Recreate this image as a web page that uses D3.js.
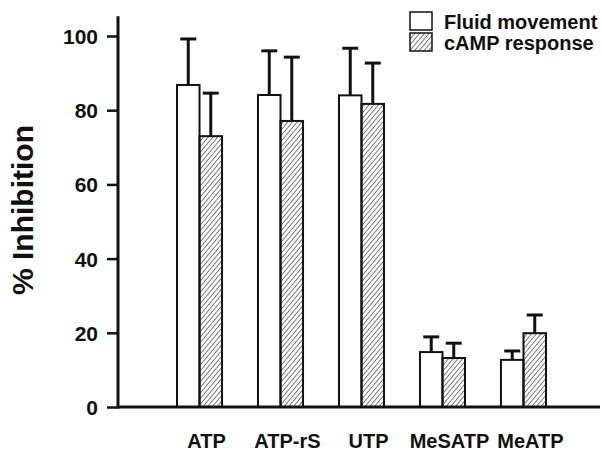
<!DOCTYPE html>
<html>
<head>
<meta charset="utf-8">
<script src="https://cdn.jsdelivr.net/npm/d3@7"></script>
<style>
  body { margin: 0; background: #fff; }
  text { font-family: Arial, "Liberation Sans", sans-serif; font-weight: bold; fill: #111; }
</style>
</head>
<body>
<div id="vis"></div>
<script>
const categories = ["ATP", "ATP-rS", "UTP", "MeSATP", "MeATP"];
const seriesNames = ["Fluid movement", "cAMP response"];
const fluidMean = [86.8, 84.1, 84.0, 14.8, 12.7];
const fluidErr  = [12.4, 11.9, 12.7, 4.1, 2.4];
const campMean  = [73.0, 77.1, 81.7, 13.2, 19.9];
const campErr   = [11.6, 17.2, 11.0, 4.0, 4.9];
const yTicks = [0, 20, 40, 60, 80, 100];

function drawChart() {
    let width = 602;
    let height = 452;

    var svg = d3.select("#vis")
        .append("svg")
        .attr("width", width)
        .attr("height", height);

    // hatch for the cAMP bars
    var defs = svg.append("defs");
    defs.append("pattern")
        .attr("id", "hatch")
        .attr("patternUnits", "userSpaceOnUse")
        .attr("width", 3.6)
        .attr("height", 3.6)
        .attr("patternTransform", "rotate(40)")
        .append("line")
        .attr("x1", 0).attr("y1", 0)
        .attr("x2", 0).attr("y2", 3.6)
        .attr("stroke", "#222")
        .attr("stroke-width", 1.2);

    var y = d3.scaleLinear()
        .domain([0, 100])
        .range([407, 36]);

    var x = d3.scaleBand()
        .domain(categories)
        .range([177, 546])
        .paddingInner(0.444)
        .paddingOuter(0);

    var x1 = d3.scaleBand()
        .domain(seriesNames)
        .range([0, x.bandwidth()]);

    var rows = categories.map(function (c, i) {
        return {
            cat: c,
            bars: [
                {name: seriesNames[0], mean: fluidMean[i], err: fluidErr[i], fill: "#fff"},
                {name: seriesNames[1], mean: campMean[i], err: campErr[i], fill: "url(#hatch)"}
            ]
        };
    });

    var groups = svg.selectAll("g.grp")
        .data(rows)
        .enter().append("g")
        .attr("class", "grp")
        .attr("transform", function (d) { return "translate(" + x(d.cat) + ",0)"; });

    var bars = groups.selectAll("g.bar")
        .data(function (d) { return d.bars; })
        .enter().append("g")
        .attr("class", "bar");

    // error bars (upper only)
    bars.append("line")
        .attr("x1", function (d) { return x1(d.name) + x1.bandwidth() / 2; })
        .attr("x2", function (d) { return x1(d.name) + x1.bandwidth() / 2; })
        .attr("y1", function (d) { return y(d.mean); })
        .attr("y2", function (d) { return y(d.mean + d.err); })
        .attr("stroke", "#111")
        .attr("stroke-width", 3);
    bars.append("line")
        .attr("x1", function (d) { return x1(d.name) + x1.bandwidth() / 2 - 8; })
        .attr("x2", function (d) { return x1(d.name) + x1.bandwidth() / 2 + 8; })
        .attr("y1", function (d) { return y(d.mean + d.err); })
        .attr("y2", function (d) { return y(d.mean + d.err); })
        .attr("stroke", "#111")
        .attr("stroke-width", 3);

    bars.append("rect")
        .attr("x", function (d) { return x1(d.name); })
        .attr("width", x1.bandwidth())
        .attr("y", function (d) { return y(d.mean); })
        .attr("height", function (d) { return y(0) - y(d.mean); })
        .attr("fill", function (d) { return d.fill; })
        .attr("stroke", "#111")
        .attr("stroke-width", 2);

    // y axis
    var yAxis = d3.axisLeft(y)
        .tickValues(yTicks)
        .tickSize(11)
        .tickPadding(9);
    var gy = svg.append("g")
        .attr("transform", "translate(118,0)")
        .call(yAxis);
    gy.select(".domain").remove();
    gy.selectAll(".tick line").attr("stroke", "#111").attr("stroke-width", 2.5);
    gy.selectAll(".tick text")
        .attr("font-size", 21)
        .attr("dy", "0.36em");
    gy.append("line")
        .attr("x1", 0).attr("x2", 0)
        .attr("y1", y(0) + 1.5)
        .attr("y2", y(105.3))
        .attr("stroke", "#111")
        .attr("stroke-width", 3);

    // x axis baseline
    svg.append("line")
        .attr("x1", 118).attr("x2", 600)
        .attr("y1", y(0)).attr("y2", y(0))
        .attr("stroke", "#111")
        .attr("stroke-width", 3);

    // category labels
    svg.selectAll("text.cat")
        .data(categories)
        .enter().append("text")
        .attr("class", "cat")
        .attr("x", function (d) { return x(d) + x.bandwidth() / 2 + 7; })
        .attr("y", 448)
        .attr("text-anchor", "middle")
        .attr("font-size", 20)
        .text(function (d) { return d; });

    // y label
    svg.append("text")
        .attr("transform", "translate(33,210) rotate(-90)")
        .attr("text-anchor", "middle")
        .attr("font-size", 30)
        .text("% Inhibition");

    // legend
    var legend = svg.selectAll("g.leg")
        .data(seriesNames)
        .enter().append("g")
        .attr("class", "leg")
        .attr("transform", function (d, i) { return "translate(410," + (12 + i * 21) + ")"; });
    legend.append("rect")
        .attr("width", 22)
        .attr("height", 18)
        .attr("fill", function (d, i) { return i === 0 ? "#fff" : "url(#hatch)"; })
        .attr("stroke", "#111")
        .attr("stroke-width", 1.5);
    legend.append("text")
        .attr("x", 34)
        .attr("y", 17)
        .attr("font-size", 20)
        .text(function (d) { return d; });
}

drawChart();
</script>
</body>
</html>
